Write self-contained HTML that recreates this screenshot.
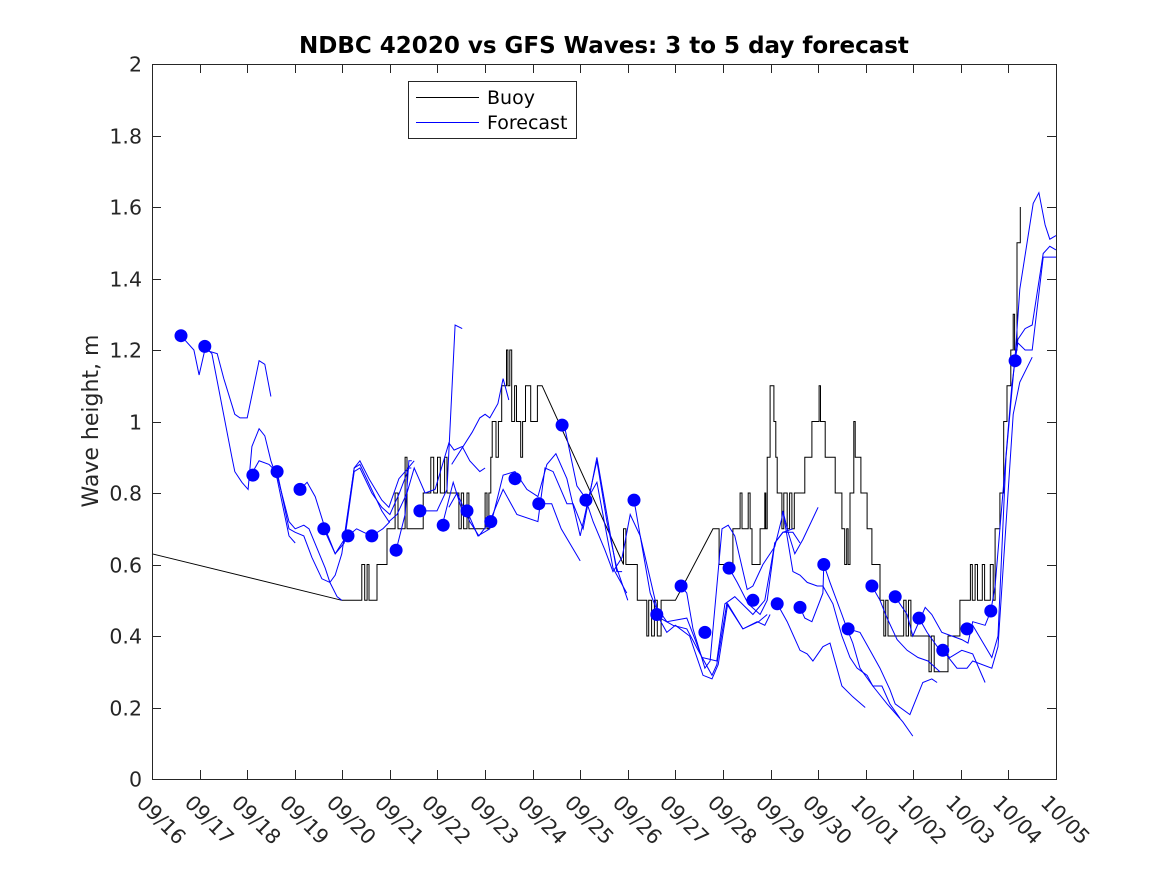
<!DOCTYPE html>
<html>
<head>
<meta charset="utf-8">
<style>
  html,body{margin:0;padding:0;background:#fff;}
  svg{display:block;font-family:"DejaVu Sans","Liberation Sans",sans-serif;}
</style>
</head>
<body>
<svg id="chart" width="1167" height="875" viewBox="0 0 1167 875" xmlns="http://www.w3.org/2000/svg">
  <rect x="0" y="0" width="1167" height="875" fill="#fff"/>
  <text x="604" y="53" text-anchor="middle" font-size="23" font-weight="bold" fill="#000">NDBC 42020 vs GFS Waves: 3 to 5 day forecast</text>
  <text transform="translate(98,421) rotate(-90)" text-anchor="middle" font-size="22" fill="#262626">Wave height, m</text>
  <g id="plot"></g>
  <g id="axes"></g>
  <g id="legend">
    <rect x="408.5" y="81.5" width="168" height="57" fill="#fff" stroke="#262626" stroke-width="1"/>
    <line x1="416" y1="97.5" x2="479" y2="97.5" stroke="#000" stroke-width="1"/>
    <text x="487" y="104" font-size="19" fill="#000">Buoy</text>
    <line x1="416" y1="122.5" x2="479" y2="122.5" stroke="#00f" stroke-width="1"/>
    <text x="487" y="129" font-size="19" fill="#000">Forecast</text>
  </g>
</svg>
<script>
const xTickLabels = ["09/16","09/17","09/18","09/19","09/20","09/21","09/22","09/23","09/24","09/25","09/26","09/27","09/28","09/29","09/30","10/01","10/02","10/03","10/04","10/05"];
const yTickValues = [0,0.2,0.4,0.6,0.8,1,1.2,1.4,1.6,1.8,2];

const dotTimes = [0.61,1.11,2.12,2.63,3.11,3.61,4.12,4.62,5.13,5.63,6.12,6.62,7.12,7.63,8.13,8.62,9.12,10.13,10.61,11.12,11.62,12.13,12.63,13.14,13.62,14.12,14.63,15.13,15.62,16.12,16.62,17.13,17.63,18.14];
const dotValues = [1.24,1.21,0.85,0.86,0.81,0.70,0.68,0.68,0.64,0.75,0.71,0.75,0.72,0.84,0.77,0.99,0.78,0.78,0.46,0.54,0.41,0.59,0.50,0.49,0.48,0.60,0.42,0.54,0.51,0.45,0.36,0.42,0.47,1.17];

const buoyPoints = [[0,0.63],[3.99,0.50],[4.41,0.50],[4.41,0.60],[4.47,0.60],[4.47,0.50],[4.52,0.5],[4.52,0.6],[4.56,0.6],[4.56,0.5],[4.73,0.5],[4.73,0.6],[4.94,0.6],[4.94,0.7],[5.11,0.7],[5.11,0.8],[5.17,0.8],[5.17,0.7],[5.32,0.7],[5.32,0.9],[5.36,0.9],[5.36,0.7],[5.70,0.7],[5.70,0.8],[5.86,0.8],[5.86,0.9],[5.92,0.9],[5.92,0.8],[6.0,0.8],[6.0,0.9],[6.06,0.9],[6.06,0.8],[6.15,0.8],[6.15,0.9],[6.2,0.9],[6.2,0.8],[6.45,0.8],[6.45,0.7],[6.5,0.7],[6.5,0.8],[6.55,0.8],[6.55,0.7],[6.62,0.7],[6.62,0.8],[6.66,0.8],[6.66,0.7],[7.0,0.7],[7.0,0.8],[7.04,0.8],[7.04,0.7],[7.08,0.7],[7.08,0.8],[7.12,0.8],[7.12,0.9],[7.15,0.9],[7.15,1.0],[7.23,1.0],[7.23,0.9],[7.28,0.9],[7.28,1.0],[7.35,1.0],[7.35,1.1],[7.45,1.1],[7.45,1.2],[7.48,1.2],[7.48,1.1],[7.52,1.1],[7.52,1.2],[7.56,1.2],[7.56,1.0],[7.62,1.0],[7.62,1.1],[7.66,1.1],[7.66,1.0],[7.75,1.0],[7.75,0.9],[7.79,0.9],[7.79,1.0],[7.85,1.0],[7.85,1.1],[7.96,1.1],[7.96,1.0],[8.1,1.0],[8.1,1.1],[8.2,1.1],[9.91,0.6],[9.91,0.7],[9.96,0.7],[9.96,0.6],[10.2,0.6],[10.2,0.5],[10.4,0.5],[10.4,0.4],[10.44,0.4],[10.44,0.5],[10.5,0.5],[10.5,0.4],[10.56,0.4],[10.56,0.5],[10.62,0.5],[10.62,0.4],[10.7,0.4],[10.7,0.5],[11.0,0.5],[11.79,0.7],[11.92,0.7],[11.92,0.6],[12.21,0.6],[12.21,0.7],[12.36,0.7],[12.36,0.8],[12.4,0.8],[12.4,0.7],[12.53,0.7],[12.53,0.8],[12.57,0.8],[12.57,0.7],[12.61,0.7],[12.61,0.6],[12.78,0.6],[12.78,0.7],[12.88,0.7],[12.88,0.8],[12.9,0.8],[12.9,0.7],[12.93,0.7],[12.93,0.9],[12.99,0.9],[12.99,1.1],[13.07,1.1],[13.07,1.0],[13.11,1.0],[13.11,0.9],[13.14,0.9],[13.14,0.8],[13.24,0.8],[13.24,0.7],[13.28,0.7],[13.28,0.8],[13.35,0.8],[13.35,0.7],[13.4,0.7],[13.4,0.8],[13.45,0.8],[13.45,0.7],[13.5,0.7],[13.5,0.8],[13.72,0.8],[13.72,0.9],[13.87,0.9],[13.87,1.0],[14.02,1.0],[14.02,1.1],[14.05,1.1],[14.05,1.0],[14.15,1.0],[14.15,0.9],[14.36,0.9],[14.36,0.8],[14.5,0.8],[14.5,0.7],[14.56,0.7],[14.56,0.6],[14.6,0.6],[14.6,0.7],[14.63,0.7],[14.63,0.6],[14.67,0.6],[14.67,0.8],[14.75,0.8],[14.75,1.0],[14.78,1.0],[14.78,0.9],[14.9,0.9],[14.9,0.8],[15.03,0.8],[15.03,0.7],[15.13,0.7],[15.13,0.6],[15.3,0.6],[15.3,0.5],[15.38,0.5],[15.38,0.4],[15.42,0.4],[15.42,0.5],[15.47,0.5],[15.47,0.4],[15.8,0.4],[15.8,0.5],[15.85,0.5],[15.85,0.4],[15.9,0.4],[15.9,0.5],[15.95,0.5],[15.95,0.4],[16.33,0.4],[16.33,0.3],[16.38,0.3],[16.38,0.4],[16.44,0.4],[16.44,0.3],[16.73,0.3],[16.73,0.4],[16.98,0.4],[16.98,0.5],[17.2,0.5],[17.2,0.6],[17.24,0.6],[17.24,0.5],[17.3,0.5],[17.3,0.6],[17.35,0.6],[17.35,0.5],[17.45,0.5],[17.45,0.6],[17.5,0.6],[17.5,0.5],[17.62,0.5],[17.62,0.6],[17.68,0.6],[17.68,0.5],[17.72,0.5],[17.72,0.7],[17.82,0.7],[17.82,0.8],[17.9,0.8],[17.9,1.0],[17.97,1.0],[17.97,1.1],[18.05,1.1],[18.05,1.2],[18.1,1.2],[18.1,1.3],[18.13,1.3],[18.13,1.2],[18.18,1.2],[18.18,1.5],[18.25,1.5],[18.25,1.6]];

const forecastLines = [
 [[0.61,1.24],[0.88,1.2],[0.99,1.13],[1.11,1.2],[1.37,1.19],[1.51,1.12],[1.74,1.02],[1.85,1.01],[2.0,1.01],[2.25,1.17],[2.37,1.16],[2.5,1.07]],
 [[1.11,1.21],[1.26,1.19],[1.68,0.90],[1.74,0.86],[1.89,0.83],[2.02,0.81],[2.1,0.93],[2.25,0.98],[2.37,0.96],[2.5,0.89],[2.63,0.84],[2.88,0.68],[3.01,0.66]],
 [[2.12,0.86],[2.25,0.89],[2.46,0.88],[2.61,0.86],[2.88,0.72],[3.01,0.70],[3.19,0.71],[3.3,0.70],[3.64,0.59],[3.74,0.55],[3.89,0.51],[3.99,0.50]],
 [[2.63,0.86],[2.88,0.70],[3.01,0.69],[3.19,0.68],[3.36,0.62],[3.57,0.56],[3.74,0.55],[3.85,0.57],[3.99,0.63],[4.25,0.87],[4.37,0.89],[4.56,0.84],[4.83,0.78],[4.98,0.76],[5.19,0.84],[5.32,0.86],[5.51,0.89]],
 [[3.11,0.81],[3.26,0.83],[3.43,0.79],[3.64,0.70],[3.85,0.63],[4.04,0.67],[4.25,0.87],[4.37,0.88],[4.83,0.75],[4.98,0.72],[5.15,0.74],[5.36,0.80],[5.51,0.87],[5.61,0.84],[5.74,0.80],[5.95,0.81],[6.24,0.94],[6.35,0.92],[6.52,0.93],[6.68,0.89],[6.89,0.86],[7.0,0.87]],
 [[3.61,0.70],[3.85,0.63],[4.04,0.66],[4.25,0.86],[4.37,0.87],[4.62,0.80],[4.83,0.76],[5.0,0.74],[5.2,0.80],[5.4,0.87],[5.45,0.87]],
 [[5.13,0.64],[5.32,0.74],[5.40,0.89],[5.46,0.89]],
 [[5.63,0.75],[5.99,0.75],[6.2,0.81],[6.37,1.27],[6.52,1.26]],
 [[4.12,0.68],[4.3,0.70],[4.45,0.69],[4.62,0.68],[4.85,0.70],[5.0,0.72]],
 [[6.3,0.88],[6.73,0.97],[6.89,1.01],[7.0,1.02],[7.1,1.01],[7.27,1.05],[7.38,1.12],[7.5,1.06]],
 [[6.12,0.72],[6.33,0.83],[6.52,0.75],[6.62,0.75],[6.85,0.68],[7.1,0.70],[7.38,0.85],[7.63,0.86],[7.88,0.81],[8.11,0.79],[8.30,0.88],[8.49,0.91],[8.72,0.84],[9.0,0.68],[9.35,0.89],[9.56,0.72],[9.77,0.59],[10.0,0.50]],
 [[6.24,0.76],[6.41,0.80],[6.68,0.72],[6.87,0.68],[7.1,0.72],[7.38,0.81],[7.67,0.74],[8.11,0.72],[8.26,0.87],[8.43,0.86],[8.72,0.77],[8.85,0.77],[9.06,0.70],[9.35,0.90],[9.77,0.58],[9.88,0.58]],
 [[8.62,0.99],[8.68,0.98],[8.93,0.82],[9.14,0.78],[9.35,0.83],[9.69,0.59],[9.98,0.52]],
 [[8.13,0.77],[8.4,0.77],[8.6,0.70],[9.0,0.61]],
 [[9.12,0.78],[9.27,0.72],[9.52,0.64],[9.69,0.58],[9.88,0.62],[10.05,0.74],[10.26,0.68],[10.47,0.52],[10.68,0.45],[10.95,0.43],[11.24,0.42],[11.52,0.35],[11.77,0.29],[11.87,0.32],[12.08,0.49],[12.42,0.42],[12.72,0.44],[12.88,0.43],[12.99,0.46]],
 [[10.13,0.78],[10.26,0.68],[10.47,0.56],[10.61,0.48],[10.82,0.44],[11.24,0.45],[11.56,0.34],[11.87,0.33],[12.04,0.49],[12.25,0.51],[12.63,0.46],[12.88,0.5],[13.09,0.66],[13.26,0.69],[13.47,0.70]],
 [[10.61,0.46],[10.82,0.41],[11.0,0.43],[11.3,0.40],[11.58,0.29],[11.77,0.28],[11.9,0.32],[12.1,0.49],[12.42,0.42],[12.75,0.44],[12.93,0.46]],
 [[11.12,0.54],[11.24,0.52],[11.37,0.42],[11.62,0.31],[11.73,0.33],[11.98,0.70],[12.11,0.71],[12.25,0.68],[12.51,0.53],[12.63,0.54],[12.84,0.60],[13.09,0.65],[13.24,0.73],[13.26,0.75],[13.37,0.69],[13.51,0.63],[13.68,0.67],[14.0,0.76]],
 [[12.13,0.59],[12.3,0.55],[12.53,0.49],[12.78,0.46],[12.93,0.5],[13.09,0.66],[13.26,0.69],[13.47,0.69],[13.62,0.66]],
 [[13.26,0.75],[13.47,0.58],[13.62,0.57],[13.77,0.55],[13.98,0.54],[14.1,0.54],[14.31,0.49],[14.5,0.40],[14.67,0.34],[14.82,0.31],[15.03,0.29],[15.15,0.26],[15.34,0.26],[15.51,0.21],[15.72,0.17]],
 [[13.14,0.49],[13.35,0.44],[13.62,0.36],[13.77,0.35],[13.89,0.33],[14.1,0.37],[14.25,0.38],[14.5,0.26],[14.73,0.23],[14.99,0.20]],
 [[13.62,0.48],[13.72,0.45],[13.87,0.44],[14.1,0.52],[14.12,0.60]],
 [[14.12,0.60],[14.25,0.55],[14.5,0.46],[14.61,0.42],[14.73,0.38],[14.88,0.31],[15.15,0.26],[15.45,0.21],[15.78,0.16],[15.99,0.12]],
 [[14.63,0.42],[14.88,0.41],[15.09,0.36],[15.3,0.31],[15.51,0.25],[15.62,0.21],[15.93,0.18],[16.2,0.27],[16.39,0.28],[16.5,0.27]],
 [[15.13,0.54],[15.3,0.50],[15.45,0.45],[15.66,0.39],[15.87,0.36],[16.1,0.34],[16.31,0.33],[16.56,0.30]],
 [[15.62,0.51],[15.72,0.49],[15.87,0.46],[15.99,0.40],[16.25,0.48],[16.39,0.46],[16.6,0.41],[16.81,0.40],[17.02,0.39],[17.15,0.38],[17.25,0.44],[17.51,0.43],[17.63,0.47]],
 [[16.12,0.45],[16.29,0.41],[16.56,0.36],[16.77,0.34],[17.02,0.36],[17.25,0.35],[17.51,0.27]],
 [[16.62,0.36],[16.92,0.31],[17.13,0.31],[17.25,0.33],[17.65,0.31],[17.78,0.37],[18.1,1.02],[18.24,1.11],[18.5,1.18]],
 [[17.13,0.42],[17.25,0.43],[17.65,0.34],[17.78,0.40],[17.95,0.9],[18.15,1.2],[18.24,1.37],[18.52,1.61],[18.64,1.64],[18.77,1.55],[18.87,1.51],[19.0,1.52]],
 [[17.63,0.47],[17.72,0.54],[17.89,0.81],[18.07,1.10],[18.2,1.23],[18.35,1.26],[18.5,1.27],[18.73,1.47],[18.87,1.49],[19.0,1.48]],
 [[18.14,1.17],[18.2,1.22],[18.35,1.20],[18.5,1.20],[18.73,1.46],[19.0,1.46]]
];

const NS = "http://www.w3.org/2000/svg";
const X0 = 152, X1 = 1056, Y0 = 779, Y1 = 64;
const xMin = 0, xMax = 19, yMin = 0, yMax = 2;
function xScale(d){ return X0 + (d - xMin) / (xMax - xMin) * (X1 - X0); }
function yScale(v){ return Y0 - (v - yMin) / (yMax - yMin) * (Y0 - Y1); }
function mk(tag, attrs, parent){
  const el = document.createElementNS(NS, tag);
  for (const k in attrs) el.setAttribute(k, attrs[k]);
  parent.appendChild(el);
  return el;
}
function ptsStr(arr){ return arr.map(p => xScale(p[0]).toFixed(1) + "," + yScale(p[1]).toFixed(1)).join(" "); }

const plot = document.getElementById("plot");
const axes = document.getElementById("axes");

const buoy = mk("polyline", {points: ptsStr(buoyPoints), fill: "none", stroke: "#000", "stroke-width": 1}, plot);



forecastLines.forEach((ln, i) => {
  const pl = mk("polyline", {points: ptsStr(ln), fill: "none", stroke: "#00f", "stroke-width": 1}, plot);
  
  
});

dotTimes.forEach((t, i) => {
  const c = mk("circle", {cx: xScale(t).toFixed(1), cy: yScale(dotValues[i]).toFixed(1), r: 6.5, fill: "#00f"}, plot);
  
  
});

const box = mk("rect", {x: X0 + 0.5, y: Y1 + 0.5, width: X1 - X0, height: Y0 - Y1, fill: "none", stroke: "#262626", "stroke-width": 1}, axes);



xTickLabels.forEach((lab, i) => {
  const x = Math.round(xScale(i)) + 0.5;
  const t1 = mk("line", {x1: x, y1: Y0, x2: x, y2: Y0 - 9, stroke: "#262626", "stroke-width": 1}, axes);
  
  
  const t2 = mk("line", {x1: x, y1: Y1, x2: x, y2: Y1 + 9, stroke: "#262626", "stroke-width": 1}, axes);
  
  
  const tx = mk("text", {x: 0, y: 0, "font-size": 20.5, fill: "#262626", transform: "translate(" + (x - 17) + "," + 804 + ") rotate(45)"}, axes);
  tx.textContent = lab;
  
  
});

yTickValues.forEach(v => {
  const y = Math.round(yScale(v)) + 0.5;
  const t1 = mk("line", {x1: X0, y1: y, x2: X0 + 9, y2: y, stroke: "#262626", "stroke-width": 1}, axes);
  
  
  const t2 = mk("line", {x1: X1, y1: y, x2: X1 - 9, y2: y, stroke: "#262626", "stroke-width": 1}, axes);
  
  
  const tx = mk("text", {x: 142, y: y + 7, "font-size": 20.5, fill: "#262626", "text-anchor": "end"}, axes);
  tx.textContent = String(v);
  
  
});
</script>
</body>
</html>
